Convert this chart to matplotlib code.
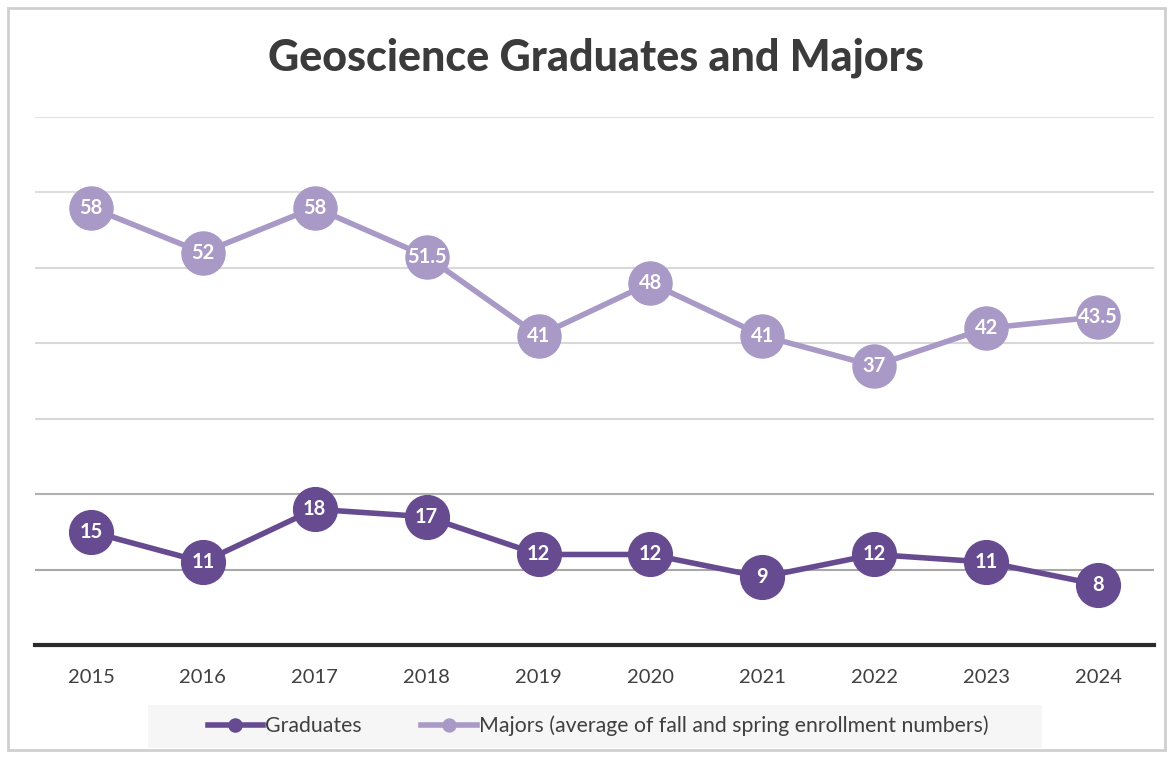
import matplotlib.pyplot as plt
import numpy as np

# chart data
years = ["2015", "2016", "2017", "2018", "2019", "2020", "2021", "2022", "2023", "2024"]
graduates = [15, 11, 18, 17, 12, 12, 9, 12, 11, 8]
majors = [58, 52, 58, 51.5, 41, 48, 41, 37, 42, 43.5]
grad_labels = ["15", "11", "18", "17", "12", "12", "9", "12", "11", "8"]
major_labels = ["58", "52", "58", "51.5", "41", "48", "41", "37", "42", "43.5"]

dark_purple = "#674b91"
light_purple = "#a899c6"

plt.rcParams['font.family'] = ['Lato', 'DejaVu Sans']

fig = plt.figure(figsize=(11.72, 7.57), dpi=100)
fig.patch.set_facecolor("white")

# chart border
fig.add_artist(plt.Rectangle((8 / 1172, 1 - 750 / 757), 1157 / 1172, 742 / 757,
                             transform=fig.transFigure, fill=False,
                             edgecolor="#cfcfcf", linewidth=2))

ax = fig.add_axes([35 / 1172, 1 - 645 / 757, 1119 / 1172, 528 / 757])
x = np.arange(len(years))

# gridlines
grid_colors = ["#a8a8a8", "#b0b0b0", "#d8d8d8", "#d8d8d8", "#d8d8d8", "#dedede", "#e2e2e2"]
for val, c in zip(range(10, 80, 10), grid_colors):
    ax.axhline(val, color=c, linewidth=1.5, zorder=0)

ax.plot(x, graduates, color=dark_purple, linewidth=4, marker="o", markersize=31.5,
        label="Graduates", zorder=3)
ax.plot(x, majors, color=light_purple, linewidth=4, marker="o", markersize=31,
        label="Majors (average of fall and spring enrollment numbers)", zorder=2)

for xi, v, t in zip(x, graduates, grad_labels):
    ax.text(xi, v, t, color="white", fontsize=14.5, fontweight="bold",
            ha="center", va="center", zorder=4)
for xi, v, t in zip(x, majors, major_labels):
    ax.text(xi, v, t, color="white", fontsize=14.5, fontweight="bold",
            ha="center", va="center", zorder=4)

ax.set_xlim(-0.5, len(years) - 0.5)
ax.set_ylim(0, 70)
ax.set_xticks(x)
ax.set_xticklabels(years, fontsize=14.5, color="#404040")
ax.set_yticks([])
ax.tick_params(axis="x", length=0, pad=17)
for s in ["top", "right", "left"]:
    ax.spines[s].set_visible(False)
ax.spines["bottom"].set_color("#2b2b2b")
ax.spines["bottom"].set_linewidth(3)
ax.set_facecolor("none")

fig.text(596 / 1172, 1 - 58 / 757, "Geoscience Graduates and Majors", fontsize=31,
         fontweight="black", color="#3b3b3b", ha="center", va="center")

# legend background
fig.add_artist(plt.Rectangle((148 / 1172, 1 - 748 / 757), 894 / 1172, 43 / 757,
                             transform=fig.transFigure, facecolor="#f6f6f6",
                             edgecolor="none", zorder=0))
leg = fig.legend(loc="center", bbox_to_anchor=(598 / 1172, 1 - 726 / 757), ncol=2,
                 frameon=False, fontsize=15.3, markerscale=0.3, handlelength=2.6,
                 handletextpad=0.1, columnspacing=2.8)
for t in leg.get_texts():
    t.set_color("#404040")

fig.savefig("out.png", dpi=100)
